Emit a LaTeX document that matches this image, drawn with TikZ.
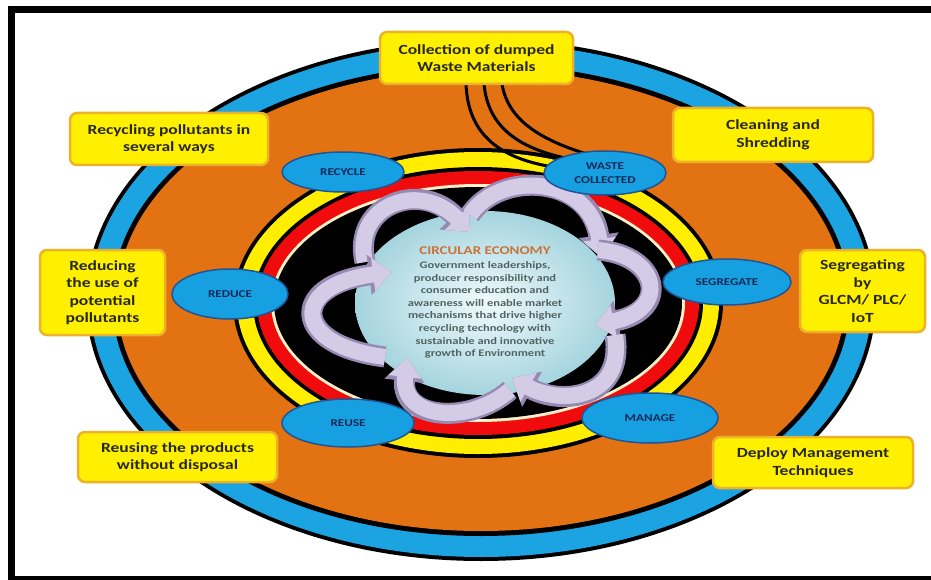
\documentclass[tikz,border=0pt]{standalone}
\usepackage{fontspec}
\newfontfamily\cf[FakeStretch=1.25]{Carlito}
\usetikzlibrary{shapes.geometric,arrows.meta}
\definecolor{ringblue}{RGB}{27,163,226}
\definecolor{ringorange}{RGB}{226,114,18}
\definecolor{ringyellow}{RGB}{255,238,0}
\definecolor{ringred}{RGB}{240,12,12}
\definecolor{ringcream}{RGB}{255,240,200}
\definecolor{boxyellow}{RGB}{255,240,0}
\definecolor{boxedge}{RGB}{238,178,40}
\definecolor{boxtext}{RGB}{40,40,25}
\definecolor{ellfill}{RGB}{22,160,226}
\definecolor{elledge}{RGB}{30,85,150}
\definecolor{elltext}{RGB}{20,40,85}
\definecolor{cloudin}{RGB}{240,250,252}
\definecolor{cloudout}{RGB}{165,212,222}
\definecolor{arrowdark}{RGB}{150,138,178}
\definecolor{arrowlight}{RGB}{212,204,230}
\definecolor{cetitle}{RGB}{200,115,55}
\definecolor{cebody}{RGB}{80,100,100}
\begin{document}
\begin{tikzpicture}[x=1pt,y=-1pt,
  wbox/.style={draw=boxedge, line width=2.5pt, fill=boxyellow, rounded corners=7pt,
    align=center, font=\cf\bfseries\fontsize{14}{17.5}\selectfont, text=boxtext, inner sep=0pt},
  stage/.style={ellipse, draw=elledge, line width=1.5pt, fill=ellfill, align=center,
    font=\cf\bfseries\fontsize{10.5}{14.5}\selectfont, text=elltext, inner sep=0pt},
  wire/.style={draw=black, line width=3pt},
  arrowout/.style={draw=arrowdark, line width=21pt, -{Triangle[width=39pt,length=23pt]}},
  arrowin/.style={draw=arrowlight, line width=16pt, -{Triangle[width=32pt,length=19pt]}}]
\useasboundingbox (0,0) rectangle (931,580);
\fill[white] (0,0) rectangle (931,580);
% frame
\fill[black] (8,6) rectangle (931,13);
\fill[black] (8,6) rectangle (15,580);
\fill[black] (8,576) rectangle (931,580);
% outer rings
\fill[black] (481,300) ellipse [x radius=395pt, y radius=261pt];
\fill[ringblue] (481,300) ellipse [x radius=391pt, y radius=257pt];
\fill[black] (481,300) ellipse [x radius=369pt, y radius=236pt];
\fill[ringorange] (481,300) ellipse [x radius=364pt, y radius=231pt];
% inner rings
\fill[black] (478,303) ellipse [x radius=245pt, y radius=155pt];
\fill[ringyellow] (478,303) ellipse [x radius=241pt, y radius=151pt];
\fill[black] (478,303) ellipse [x radius=225pt, y radius=136pt];
\fill[ringred] (478,303) ellipse [x radius=221pt, y radius=132pt];
\fill[ringcream] (478,303) ellipse [x radius=207pt, y radius=119pt];
\fill[black] (478,303) ellipse [x radius=204pt, y radius=116pt];
% wires from top box to waste collected
\coordinate (w1s) at (466,84);
\coordinate (w2s) at (484,84);
\coordinate (w3s) at (502,84);
\coordinate (w1e) at (560,168);
\coordinate (w2e) at (575,160);
\coordinate (w3e) at (590,155);
\draw[wire] (w1s) .. controls (468,135) and (500,160) .. (w1e);
\draw[wire] (w2s) .. controls (488,128) and (520,150) .. (w2e);
\draw[wire] (w3s) .. controls (508,120) and (540,140) .. (w3e);
% cloud
\shade[inner color=cloudin, outer color=cloudout] (485,303) ellipse [x radius=130pt, y radius=92pt];
% curved arrows
\coordinate (a1) at (365,262); \coordinate (a2) at (470,232);
\coordinate (b1) at (470,215); \coordinate (b2) at (602,258);
\coordinate (c1) at (598,250); \coordinate (c2) at (595,325);
\coordinate (d1) at (615,335); \coordinate (d2) at (512,378);
\coordinate (e1) at (510,390); \coordinate (e2) at (407,358);
\coordinate (f1) at (385,357); \coordinate (f2) at (392,272);
\draw[arrowout] (a1) .. controls (352,205) and (420,180) .. (a2);
\draw[arrowin]  (a1) .. controls (352,205) and (420,180) .. (a2);
\draw[arrowout] (b1) .. controls (500,170) and (590,175) .. (b2);
\draw[arrowin]  (b1) .. controls (500,170) and (590,175) .. (b2);
\draw[arrowout] (c1) .. controls (660,255) and (670,310) .. (c2);
\draw[arrowin]  (c1) .. controls (660,255) and (670,310) .. (c2);
\draw[arrowout] (d1) .. controls (625,400) and (560,405) .. (d2);
\draw[arrowin]  (d1) .. controls (625,400) and (560,405) .. (d2);
\draw[arrowout] (e1) .. controls (470,425) and (400,420) .. (e2);
\draw[arrowin]  (e1) .. controls (470,425) and (400,420) .. (e2);
\draw[arrowout] (f1) .. controls (290,345) and (290,285) .. (f2);
\draw[arrowin]  (f1) .. controls (290,345) and (290,285) .. (f2);
% centre text
\node[font=\cf\bfseries\fontsize{12}{14}\selectfont, text=cetitle, inner sep=0pt] (cet) at (485,251) {CIRCULAR ECONOMY};
\node[font=\cf\bfseries\fontsize{10}{12.6}\selectfont, text=cebody, align=center, inner sep=0pt] (ceb) at (485,310)
  {Government leaderships,\\producer responsibility and\\consumer education and\\awareness will enable market\\mechanisms that drive higher\\recycling technology with\\sustainable and innovative\\growth of Environment};
% stage ellipses
\node[stage, minimum width=122pt, minimum height=40pt] (recycle) at (343,172) {RECYCLE};
\node[stage, minimum width=122pt, minimum height=44pt] (waste) at (605,173) {WASTE\\COLLECTED};
\node[stage, minimum width=116pt, minimum height=50pt] (reduce) at (230,294) {REDUCE};
\node[stage, minimum width=128pt, minimum height=46pt] (segregate) at (727,282) {SEGREGATE};
\node[stage, minimum width=132pt, minimum height=48pt] (reuse) at (348,423) {REUSE};
\node[stage, minimum width=136pt, minimum height=50pt] (manage) at (650,418) {MANAGE};
% yellow boxes
\node[wbox, minimum width=193pt, minimum height=52pt] (top) at (476.5,58) {Collection of dumped\\Waste Materials};
\node[wbox, minimum width=198pt, minimum height=52pt] (recyc) at (169,139) {Recycling pollutants in\\several ways};
\node[wbox, minimum width=125pt, minimum height=85pt] (reduc) at (102.5,292.5) {Reducing\\the use of\\potential\\pollutants};
\node[wbox, minimum width=200pt, minimum height=54pt] (clean) at (773,135) {Cleaning and\\Shredding};
\node[wbox, minimum width=125pt, minimum height=82pt] (segr) at (862.5,291) {Segregating\\by\\GLCM/ PLC/\\IoT};
\node[wbox, minimum width=199pt, minimum height=50pt] (reus) at (177.5,457) {Reusing the products\\without disposal};
\node[wbox, minimum width=200pt, minimum height=51pt] (deploy) at (813,462.5) {Deploy Management\\Techniques};
\end{tikzpicture}
\end{document}
